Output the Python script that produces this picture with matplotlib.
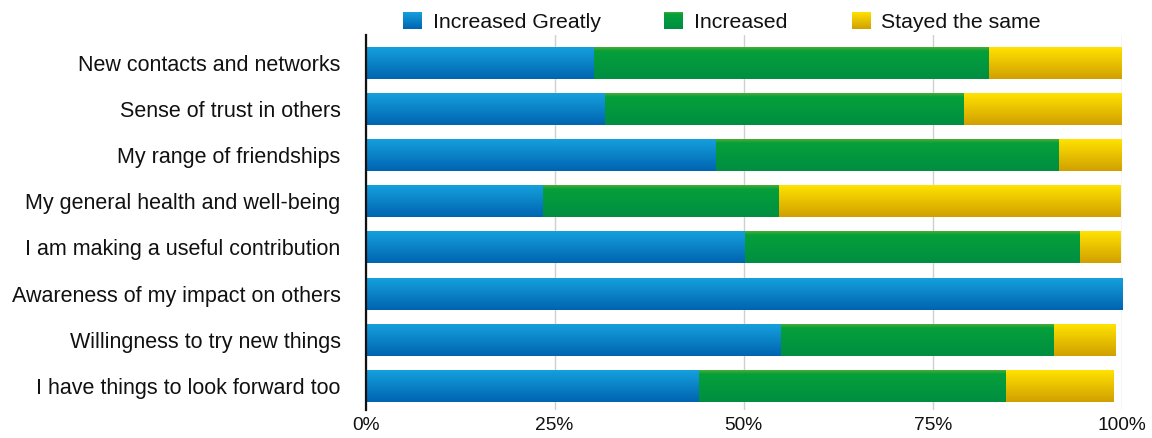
import numpy as np
import matplotlib
matplotlib.use("Agg")
import matplotlib.pyplot as plt
from matplotlib.colors import to_rgb
from matplotlib.image import BboxImage
from matplotlib.legend_handler import HandlerBase
from matplotlib.patches import Rectangle
from matplotlib.transforms import Bbox, TransformedBbox

plt.rcParams["font.family"] = ["Liberation Sans", "DejaVu Sans"]

categories = [
    "New contacts and networks",
    "Sense of trust in others",
    "My range of friendships",
    "My general health and well-being",
    "I am making a useful contribution",
    "Awareness of my impact on others",
    "Willingness to try new things",
    "I have things to look forward too",
]
series_names = ["Increased Greatly", "Increased", "Stayed the same"]
increased_greatly = [30.2, 31.7, 46.4, 23.5, 50.2, 100.0, 55.0, 44.1]
increased = [52.2, 47.5, 45.3, 31.2, 44.3, 0.0, 36.1, 40.6]
stayed_same = [17.5, 20.8, 8.3, 45.2, 5.4, 0.0, 8.1, 14.2]
x_ticks = [0, 25, 50, 75, 100]
x_tick_labels = ["0%", "25%", "50%", "75%", "100%"]

# vertical colour stops (top -> bottom) for each series
gradients = [
    [(0.0, "#15a0dd"), (1.0, "#0064b0")],
    [(0.0, "#4aab35"), (0.12, "#05a03a"), (1.0, "#008e42")],
    [(0.0, "#ffe200"), (1.0, "#d1a000")],
]
base_colors = ["#0582c6", "#009a3c", "#ecc200"]


def gradient_array(stops, n=64):
    t = np.linspace(0, 1, n)
    pos = [s[0] for s in stops]
    cols = np.array([to_rgb(s[1]) for s in stops])
    arr = np.stack([np.interp(t, pos, cols[:, k]) for k in range(3)], axis=1)
    return arr[:, None, :]


class GradientHandler(HandlerBase):
    def __init__(self, stops):
        super().__init__()
        self.stops = stops

    def create_artists(self, legend, orig_handle, xdescent, ydescent,
                       width, height, fontsize, trans):
        bb = TransformedBbox(Bbox.from_bounds(-xdescent, -ydescent, width, height), trans)
        img = BboxImage(bb, interpolation="bilinear")
        img.set_data(gradient_array(self.stops))
        return [img]


fig = plt.figure(figsize=(11.52, 4.38), dpi=100)
ax = fig.add_axes([0.3173, 0.0639, 0.6564, 0.8562])

n = len(categories)
ypos = np.arange(n)[::-1]
bar_h = 0.69
values = [increased_greatly, increased, stayed_same]
left = np.zeros(n)
for vals, stops, col in zip(values, gradients, base_colors):
    vals = np.asarray(vals, dtype=float)
    bars = ax.barh(ypos, vals, left=left, height=bar_h, color=col, zorder=2)
    grad = gradient_array(stops)
    for p in bars.patches:
        if p.get_width() <= 0:
            continue
        x0, y0 = p.get_x(), p.get_y()
        ax.imshow(grad, extent=(x0, x0 + p.get_width(), y0, y0 + p.get_height()),
                  origin="upper", aspect="auto", interpolation="bilinear", zorder=3)
    left = left + vals

ax.set_xlim(0, 100)
ax.set_ylim(-0.52, n - 1 + 0.6)
ax.set_yticks(ypos)
ax.set_yticklabels(categories, fontsize=15.5, color="#111111")
ax.set_xticks(x_ticks)
ax.set_xticklabels(x_tick_labels, fontsize=13.8, color="#111111")
ax.tick_params(axis="y", length=0, pad=18)
ax.tick_params(axis="x", length=0, pad=5)

ax.grid(axis="x", color="#cfcfcf", linewidth=1.0, zorder=0)
ax.set_axisbelow(True)
for side in ["top", "right", "bottom"]:
    ax.spines[side].set_visible(False)
ax.spines["left"].set_color("#111111")
ax.spines["left"].set_linewidth(1.6)
ax.spines["left"].set_zorder(5)

handles = [Rectangle((0, 0), 1, 1, color=c) for c in base_colors]
fig.legend(handles, series_names, loc="center", bbox_to_anchor=(0.6267, 0.9498),
           ncol=3, frameon=False, fontsize=15.3, handlelength=0.85, handleheight=0.85,
           handletextpad=0.56, columnspacing=3.0, borderpad=0, labelcolor="#111111",
           handler_map={h: GradientHandler(s) for h, s in zip(handles, gradients)})

fig.savefig("out.png", dpi=100)
